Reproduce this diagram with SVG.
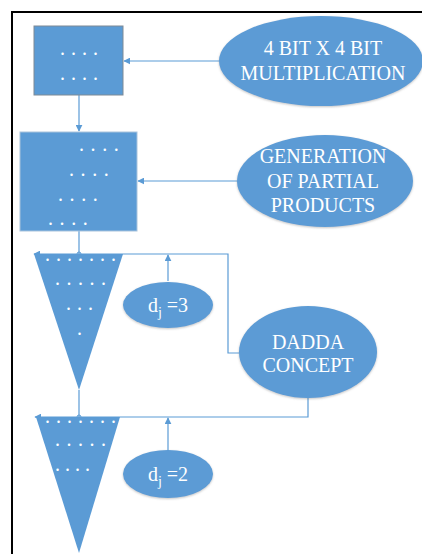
<svg xmlns="http://www.w3.org/2000/svg" width="422" height="554" viewBox="0 0 422 554">
<style>
.shape{fill:#5B9BD5;}
.lbl{font-family:"Liberation Serif","Times New Roman",serif;font-size:20px;fill:#ffffff;text-anchor:middle;}
.dots{font-family:"Liberation Serif","Times New Roman",serif;font-size:20px;fill:#ffffff;}
.conn{fill:none;stroke:#5B9BD5;stroke-width:1.2;}
</style>
<defs>
<marker id="ah" viewBox="0 0 10 10" refX="9" refY="5" markerWidth="7" markerHeight="7" markerUnits="userSpaceOnUse" orient="auto">
<path d="M0,0 L10,5 L0,10 z" fill="#5B9BD5"/>
</marker>
<filter id="sh" x="-10%" y="-10%" width="120%" height="125%">
<feDropShadow dx="0" dy="1" stdDeviation="1.2" flood-color="#7a7a7a" flood-opacity="0.45"/>
</filter>
</defs>
<rect width="422" height="554" fill="#ffffff"/>
<path d="M12,554 V12 H422" fill="none" stroke="#000000" stroke-width="2"/>

<g id="connectors">
<line class="conn" x1="219" y1="61" x2="124" y2="61" marker-end="url(#ah)"/>
<line class="conn" x1="79" y1="95" x2="79" y2="131" marker-end="url(#ah)"/>
<line class="conn" x1="237" y1="181" x2="138" y2="181" marker-end="url(#ah)"/>
<line class="conn" x1="79" y1="231" x2="79" y2="254"/>
<circle cx="79" cy="254" r="2" fill="none" stroke="#5B9BD5" stroke-width="1"/>
<path class="conn" d="M239,353 H228 V254 H34" marker-end="url(#ah)"/>
<line class="conn" x1="168" y1="281" x2="168" y2="255" marker-end="url(#ah)"/>
<line class="conn" x1="79" y1="390" x2="79" y2="417"/>
<circle cx="79" cy="417" r="2" fill="none" stroke="#5B9BD5" stroke-width="1"/>
<path class="conn" d="M308,398 V417 H35" marker-end="url(#ah)"/>
<line class="conn" x1="168" y1="451" x2="168" y2="418" marker-end="url(#ah)"/>
</g>

<g id="box1">
<rect class="shape" x="34" y="26" width="89" height="69" stroke="#7f8a95" stroke-width="1"/>
<text class="dots" x="60" y="55" letter-spacing="0.5">. . . .</text>
<text class="dots" x="60" y="80" letter-spacing="0.5">. . . .</text>
</g>

<g id="mult">
<ellipse class="shape" cx="321" cy="61" rx="102" ry="45" filter="url(#sh)"/>
<text class="lbl" x="323" y="55">4 BIT X 4 BIT</text>
<text class="lbl" x="323" y="80">MULTIPLICATION</text>
</g>

<g id="box2">
<rect class="shape" x="20" y="132" width="117" height="99" stroke="#a9c3dc" stroke-width="1"/>
<text class="dots" x="79" y="151" letter-spacing="0.8">. . . .</text>
<text class="dots" x="69" y="176" letter-spacing="0.8">. . . .</text>
<text class="dots" x="58" y="201" letter-spacing="0.8">. . . .</text>
<text class="dots" x="48" y="225" letter-spacing="0.8">. . . .</text>
</g>

<g id="partial">
<ellipse class="shape" cx="325" cy="181" rx="88" ry="46" filter="url(#sh)"/>
<text class="lbl" x="323" y="163">GENERATION</text>
<text class="lbl" x="323" y="188">OF PARTIAL</text>
<text class="lbl" x="323" y="212">PRODUCTS</text>
</g>

<g id="tri1">
<polygon class="shape" points="34,254 123,254 79,390"/>
<text class="dots" x="45" y="261" letter-spacing="0.5">. . . . . . .</text>
<text class="dots" x="55" y="285" letter-spacing="0.75">. . . . .</text>
<text class="dots" x="66" y="310" letter-spacing="0.5">. . .</text>
<text class="dots" x="77" y="335">.</text>
</g>

<g id="dj3">
<ellipse class="shape" cx="168" cy="305" rx="45" ry="23" filter="url(#sh)"/>
<text class="lbl" x="168" y="312">d<tspan font-size="14" dy="5">j</tspan><tspan dy="-5"> =3</tspan></text>
</g>

<g id="dadda">
<ellipse class="shape" cx="308" cy="352" rx="69" ry="46" filter="url(#sh)"/>
<text class="lbl" x="308" y="349">DADDA</text>
<text class="lbl" x="308" y="372">CONCEPT</text>
</g>

<g id="tri2">
<polygon class="shape" points="36,417 120,417 79,553"/>
<text class="dots" x="45" y="423" letter-spacing="0.5">. . . . . . .</text>
<text class="dots" x="55" y="446" letter-spacing="0.75">. . . . .</text>
<text class="dots" x="55" y="471" letter-spacing="0">. . . .</text>
</g>

<g id="dj2">
<ellipse class="shape" cx="168" cy="474" rx="45" ry="24" filter="url(#sh)"/>
<text class="lbl" x="168" y="481">d<tspan font-size="14" dy="5">j</tspan><tspan dy="-5"> =2</tspan></text>
</g>
</svg>
